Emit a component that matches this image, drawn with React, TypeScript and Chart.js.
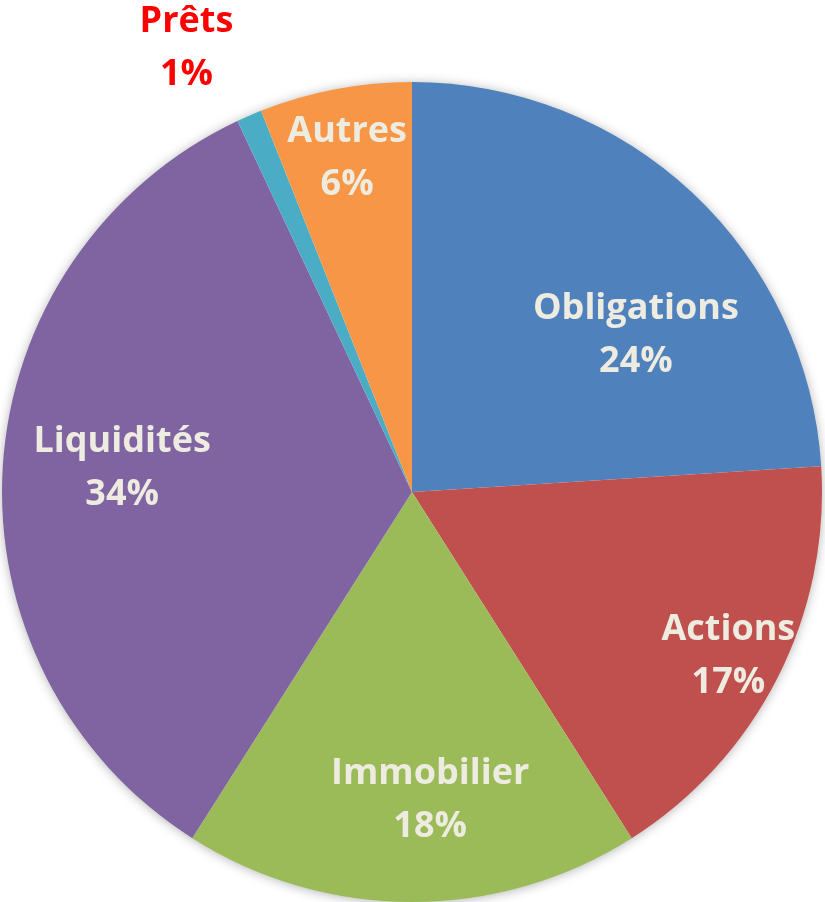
import React, { useEffect, useRef } from "react";
import { Chart, registerables } from "chart.js";

Chart.register(...registerables);

const categories = ["Obligations", "Actions", "Immobilier", "Liquidités", "Prêts", "Autres"];
const shares = [24, 17, 18, 34, 1, 6];
const percentLabels = ["24%", "17%", "18%", "34%", "1%", "6%"];
const sliceColors = ["#4F81BD", "#C0504D", "#9BBB59", "#8064A2", "#4BACC6", "#F79646"];
const labelColors = ["#EEECE1", "#EEECE1", "#EEECE1", "#EEECE1", "#FF0000", "#EEECE1"];
// label placement: fraction of radius, angular shift in degrees from slice mid-angle
const labelRadius = [0.67, 0.866, 0.747, 0.71, 1.22, 0.837];
const labelShift = [11.4, 0, -3.4, 1.7, -3.4, -0.1];

const FONT = "bold 36px 'Open Sans', 'DejaVu Sans', sans-serif";

const shadowPlugin = {
  id: "pieShadow",
  beforeDatasetsDraw(chart: any) {
    const meta = chart.getDatasetMeta(0);
    const arc = meta.data[0];
    if (!arc) return;
    const { x, y, outerRadius } = arc.getProps(["x", "y", "outerRadius"], true);
    const ctx = chart.ctx;
    ctx.save();
    ctx.shadowColor = "rgba(0,0,0,0.35)";
    ctx.shadowBlur = 12;
    ctx.shadowOffsetX = 0;
    ctx.shadowOffsetY = 1;
    ctx.beginPath();
    ctx.arc(x, y, outerRadius - 1, 0, Math.PI * 2);
    ctx.fillStyle = "#ffffff";
    ctx.fill();
    ctx.restore();
  },
};

const labelPlugin = {
  id: "pieLabels",
  afterDatasetsDraw(chart: any) {
    const meta = chart.getDatasetMeta(0);
    const ctx = chart.ctx;
    ctx.save();
    ctx.font = FONT;
    ctx.textAlign = "center";
    ctx.textBaseline = "alphabetic";
    const capH = 26;
    const gap = 26.5;
    meta.data.forEach((arc: any, i: number) => {
      const { x, y, startAngle, endAngle, outerRadius } = arc.getProps(
        ["x", "y", "startAngle", "endAngle", "outerRadius"],
        true
      );
      const a = (startAngle + endAngle) / 2 + (labelShift[i] * Math.PI) / 180;
      const r = outerRadius * labelRadius[i];
      const cx = x + r * Math.cos(a);
      const cy = y + r * Math.sin(a);
      ctx.fillStyle = labelColors[i];
      ctx.fillText(categories[i], cx, cy - gap + capH / 2);
      ctx.fillText(percentLabels[i], cx, cy + gap + capH / 2);
    });
    ctx.restore();
  },
};

export default function App() {
  const ref = useRef<HTMLCanvasElement | null>(null);
  useEffect(() => {
    if (!ref.current) return;
    const chart = new Chart(ref.current, {
      type: "pie",
      data: {
        labels: categories,
        datasets: [
          {
            data: shares,
            backgroundColor: sliceColors,
            borderWidth: 0,
          },
        ],
      },
      options: {
        responsive: false,
        animation: false,
        layout: { padding: { left: 2, right: 3, top: 82, bottom: 0 } },
        plugins: {
          legend: { display: false },
          tooltip: { enabled: false },
        },
      },
      plugins: [shadowPlugin, labelPlugin],
    });
    return () => chart.destroy();
  }, []);
  return (
    <div style={{ position: "absolute", left: 0, top: 0, width: 825, height: 902, background: "#fff" }}>
      <canvas ref={ref} width={825} height={902} />
    </div>
  );
}
